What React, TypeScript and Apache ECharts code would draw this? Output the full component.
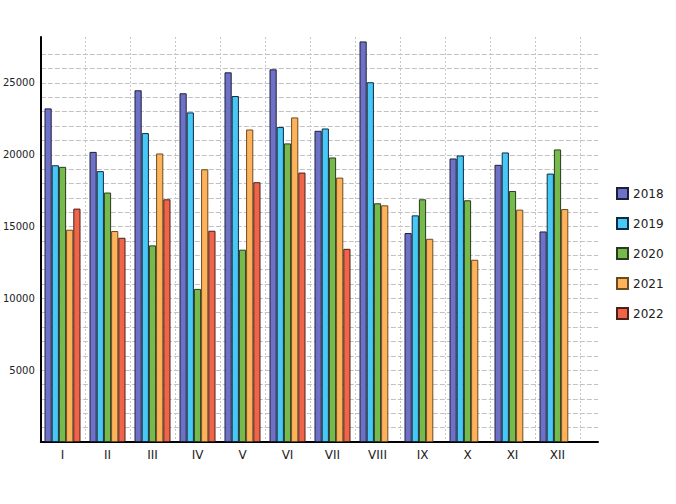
import React, { useEffect, useRef } from "react";
import * as echarts from "echarts";

const categories = ["I", "II", "III", "IV", "V", "VI", "VII", "VIII", "IX", "X", "XI", "XII"];
const seriesNames = ["2018", "2019", "2020", "2021", "2022"];
const values2018 = [23230, 20200, 24490, 24280, 25740, 25950, 21670, 27890, 14550, 19740, 19300, 14660];
const values2019 = [19270, 18860, 21510, 22950, 24090, 21930, 21830, 25050, 15780, 19950, 20160, 18690];
const values2020 = [19160, 17370, 13690, 10660, 13390, 20790, 19810, 16620, 16900, 16830, 17480, 20370];
const values2021 = [14780, 14690, 20090, 18990, 21760, 22600, 18410, 16480, 14150, 12690, 16180, 16220];
const values2022 = [16250, 14220, 16900, 14710, 18090, 18760, 13450, null, null, null, null, null];
const colors = ["#6e72c6", "#48c8f6", "#76ba4c", "#feb35b", "#f0644a"];
const borderColors = ["#1e1e3c", "#102a40", "#2a3a20", "#6a4a20", "#4a2018"];
const yMax = 28200;
const yInterval = 1000;

export default function App() {
  const ref = useRef<HTMLDivElement>(null);
  useEffect(() => {
    if (!ref.current) return;
    const chart = echarts.init(ref.current, null, { renderer: "svg" });
    const allValues = [values2018, values2019, values2020, values2021, values2022];
    const tickCount = Math.floor(yMax / yInterval) + 2;
    const splitColors: string[] = [];
    for (let i = 0; i < tickCount; i++) {
      splitColors.push(i === 0 || i >= tickCount - 2 ? "rgba(0,0,0,0)" : "#c2c2c2");
    }
    const font = "DejaVu Sans, Verdana, sans-serif";
    chart.setOption({
      animation: false,
      backgroundColor: "#ffffff",
      grid: [
        { left: 38, right: 78, top: 37, bottom: 62 },
        { left: 40, right: 96, top: 37, bottom: 62 },
      ],
      legend: {
        orient: "vertical",
        left: 611,
        top: 182,
        itemWidth: 11,
        itemHeight: 11,
        itemGap: 17,
        icon: "rect",
        textStyle: { fontFamily: font, fontSize: 12, color: "#222" },
        data: seriesNames,
      },
      xAxis: [
        {
          type: "value",
          gridIndex: 0,
          min: 0,
          max: 1,
          axisLine: { show: true, lineStyle: { color: "#000", width: 2 } },
          axisTick: { show: false },
          axisLabel: { show: false },
          splitLine: { show: false },
        },
        {
          type: "category",
          gridIndex: 1,
          data: categories,
          boundaryGap: true,
          axisLine: { show: false },
          axisTick: { show: false },
          axisLabel: { fontFamily: font, fontSize: 12, color: "#222", margin: 7 },
          splitLine: {
            show: true,
            interval: 0,
            lineStyle: { color: "#c8c8c8", type: [2, 2], width: 1 },
          },
        },
      ],
      yAxis: [
        {
          type: "value",
          gridIndex: 0,
          min: 0,
          max: yMax,
          interval: yInterval,
          axisLine: { show: true, lineStyle: { color: "#000", width: 2 } },
          axisTick: { show: false },
          axisLabel: {
            fontFamily: font,
            fontSize: 10,
            color: "#222",
            margin: 6,
            formatter: (v: number) => (v > 0 && v % 5000 === 0 ? String(v) : ""),
          },
          splitLine: {
            show: true,
            lineStyle: { color: splitColors, type: [5, 2], width: 1 },
          },
        },
        {
          type: "value",
          gridIndex: 1,
          min: 0,
          max: yMax,
          interval: yInterval,
          show: false,
          splitLine: { show: false },
        },
      ],
      series: seriesNames.map((name, i) => ({
        name,
        type: "bar",
        xAxisIndex: 1,
        yAxisIndex: 1,
        data: allValues[i],
        barGap: "0%",
        barCategoryGap: "20%",
        itemStyle: { color: colors[i], borderColor: borderColors[i], borderWidth: 1 },
      })),
    });
    return () => chart.dispose();
  }, []);
  return (
    <div
      ref={ref}
      style={{ position: "fixed", left: 0, top: 0, width: 676, height: 504 }}
    />
  );
}
